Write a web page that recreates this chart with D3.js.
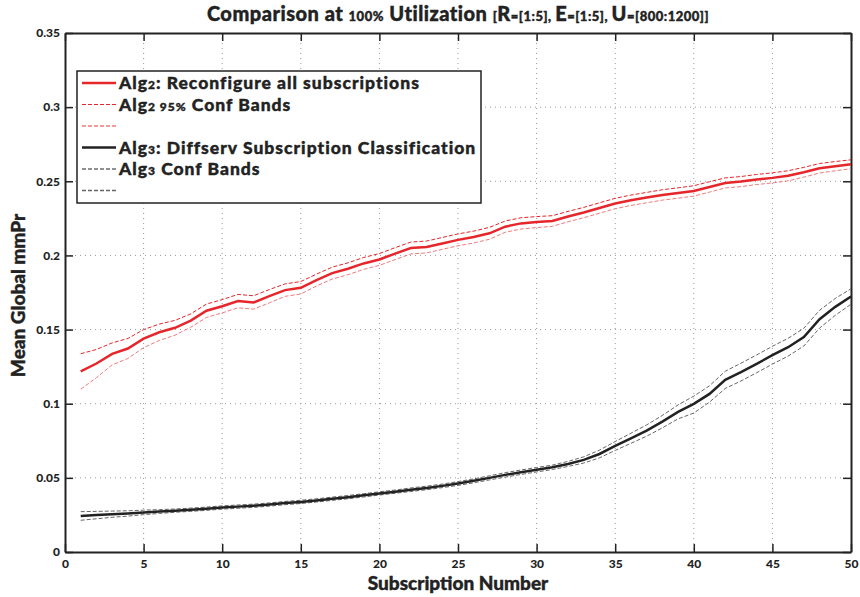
<!DOCTYPE html>
<html>
<head>
<meta charset="utf-8">
<script src="https://cdn.jsdelivr.net/npm/d3@7"></script>
<style>
  body { margin: 0; background: #fff; }
  svg text { font-family: Lato, "DejaVu Sans", sans-serif; font-weight: 900; fill: #222; }
  svg text.heavy { stroke: #222; stroke-width: 0.4px; }
</style>
</head>
<body>
<div id="chart"></div>
<script>
// Data (x = subscription number 1..50)
const subscriptions = d3.range(1, 51);

const alg2Mean = [0.1218, 0.1271, 0.1336, 0.1372, 0.1439, 0.1482, 0.1512, 0.1561, 0.1627, 0.1657,
  0.1692, 0.1683, 0.1725, 0.1766, 0.1782, 0.1834, 0.1881, 0.1910, 0.1946, 0.1973,
  0.2012, 0.2050, 0.2057, 0.2081, 0.2105, 0.2124, 0.2149, 0.2194, 0.2216, 0.2225,
  0.2232, 0.2262, 0.2289, 0.2320, 0.2350, 0.2372, 0.2390, 0.2408, 0.2421, 0.2435,
  0.2462, 0.2489, 0.2498, 0.2512, 0.2523, 0.2537, 0.2561, 0.2588, 0.2602, 0.2615];
const alg2Upper = [0.1337, 0.1366, 0.1410, 0.1440, 0.1500, 0.1537, 0.1562, 0.1606, 0.1672, 0.1702,
  0.1737, 0.1728, 0.1770, 0.1808, 0.1824, 0.1874, 0.1921, 0.1950, 0.1986, 0.2013,
  0.2052, 0.2090, 0.2097, 0.2121, 0.2145, 0.2164, 0.2189, 0.2232, 0.2254, 0.2262,
  0.2268, 0.2297, 0.2324, 0.2355, 0.2385, 0.2407, 0.2425, 0.2443, 0.2456, 0.2470,
  0.2497, 0.2523, 0.2532, 0.2546, 0.2557, 0.2571, 0.2594, 0.2620, 0.2633, 0.2645];
const alg2Lower = [0.1098, 0.1176, 0.1262, 0.1305, 0.1378, 0.1427, 0.1462, 0.1516, 0.1582, 0.1612,
  0.1647, 0.1638, 0.1680, 0.1724, 0.1740, 0.1794, 0.1841, 0.1870, 0.1906, 0.1933,
  0.1972, 0.2010, 0.2017, 0.2041, 0.2065, 0.2084, 0.2109, 0.2156, 0.2178, 0.2188,
  0.2196, 0.2227, 0.2254, 0.2285, 0.2315, 0.2337, 0.2355, 0.2373, 0.2386, 0.2400,
  0.2427, 0.2455, 0.2464, 0.2478, 0.2489, 0.2503, 0.2528, 0.2556, 0.2571, 0.2585];

const alg3Mean = [0.0243, 0.0249, 0.0255, 0.0260, 0.0267, 0.0273, 0.0279, 0.0285, 0.0292, 0.0300,
  0.0306, 0.0312, 0.0320, 0.0330, 0.0338, 0.0348, 0.0359, 0.0370, 0.0382, 0.0395,
  0.0407, 0.0420, 0.0432, 0.0446, 0.0462, 0.0480, 0.0500, 0.0520, 0.0538, 0.0555,
  0.0571, 0.0594, 0.0621, 0.0661, 0.0715, 0.0767, 0.0819, 0.0879, 0.0945, 0.0999,
  0.1066, 0.1161, 0.1213, 0.1269, 0.1327, 0.1381, 0.1449, 0.1570, 0.1653, 0.1723];
const alg3Upper = [0.0272, 0.0274, 0.0276, 0.0278, 0.0282, 0.0286, 0.0290, 0.0296, 0.0303, 0.0311,
  0.0317, 0.0323, 0.0331, 0.0341, 0.0349, 0.0359, 0.0370, 0.0381, 0.0393, 0.0406,
  0.0418, 0.0432, 0.0444, 0.0458, 0.0475, 0.0493, 0.0514, 0.0535, 0.0553, 0.0570,
  0.0586, 0.0611, 0.0642, 0.0687, 0.0745, 0.0801, 0.0857, 0.0921, 0.0992, 0.1051,
  0.1121, 0.1219, 0.1273, 0.1329, 0.1387, 0.1441, 0.1509, 0.1630, 0.1710, 0.1775];
const alg3Lower = [0.0214, 0.0224, 0.0234, 0.0242, 0.0252, 0.0260, 0.0268, 0.0274, 0.0281, 0.0289,
  0.0295, 0.0301, 0.0309, 0.0319, 0.0327, 0.0337, 0.0348, 0.0359, 0.0371, 0.0384,
  0.0396, 0.0408, 0.0420, 0.0434, 0.0449, 0.0467, 0.0486, 0.0505, 0.0523, 0.0540,
  0.0556, 0.0577, 0.0600, 0.0635, 0.0685, 0.0733, 0.0781, 0.0837, 0.0898, 0.0937,
  0.1011, 0.1103, 0.1153, 0.1209, 0.1267, 0.1321, 0.1389, 0.1510, 0.1596, 0.1671];

const xTicks = [0, 5, 10, 15, 20, 25, 30, 35, 40, 45, 50];
const yTicks = [0, 0.05, 0.1, 0.15, 0.2, 0.25, 0.3, 0.35];

const width = 860, height = 597;
const margin = {top: 33, right: 9, bottom: 45, left: 65};
const innerW = width - margin.left - margin.right,
  innerH = height - margin.top - margin.bottom;

const red = "#e5262b", redLight = "#f07a7d", black = "#222", grey = "#666";

const svg = d3.select("#chart").append("svg")
  .attr("width", width).attr("height", height);

const g = svg.append("g")
  .attr("transform", "translate(" + margin.left + "," + margin.top + ")");

const x = d3.scaleLinear().domain([0, 50]).range([0, innerW]);
const y = d3.scaleLinear().domain([0, 0.35]).range([innerH, 0]);

// dotted grid
g.append("g").selectAll("line").data(xTicks.slice(1, -1)).enter().append("line")
  .attr("x1", d => x(d)).attr("x2", d => x(d)).attr("y1", 0).attr("y2", innerH)
  .attr("stroke", "#999").attr("stroke-width", 1).attr("stroke-dasharray", "1,4");
g.append("g").selectAll("line").data(yTicks.slice(1, -1)).enter().append("line")
  .attr("y1", d => y(d)).attr("y2", d => y(d)).attr("x1", 0).attr("x2", innerW)
  .attr("stroke", "#999").attr("stroke-width", 1).attr("stroke-dasharray", "1,4");

// axes (ticks pointing inward, matlab style)
const xAxis = g.append("g").attr("transform", "translate(0," + innerH + ")")
  .call(d3.axisBottom(x).tickValues(xTicks).tickFormat(d3.format("d")).tickSizeInner(-8).tickSizeOuter(0).tickPadding(7));
const xAxisTop = g.append("g")
  .call(d3.axisTop(x).tickValues(xTicks).tickFormat("").tickSizeInner(-8).tickSizeOuter(0));
const yAxis = g.append("g")
  .call(d3.axisLeft(y).tickValues(yTicks).tickFormat(d => d === 0 ? "0" : String(d)).tickSizeInner(-8).tickSizeOuter(0).tickPadding(5));
const yAxisRight = g.append("g").attr("transform", "translate(" + innerW + ",0)")
  .call(d3.axisRight(y).tickValues(yTicks).tickFormat("").tickSizeInner(-8).tickSizeOuter(0));

[xAxis, xAxisTop, yAxis, yAxisRight].forEach(a => {
  a.select(".domain").attr("stroke", "#222").attr("stroke-width", 2);
  a.selectAll(".tick line").attr("stroke", "#222").attr("stroke-width", 1.5);
  a.selectAll(".tick text").style("font-size", "12px").attr("fill", "#222");
});

// lines
const line = d3.line().x((d, i) => x(subscriptions[i])).y(d => y(d));

function drawLine(data, color, w, dash) {
  g.append("path").datum(data)
    .attr("fill", "none").attr("stroke", color).attr("stroke-width", w)
    .attr("stroke-dasharray", dash).attr("d", line);
}
drawLine(alg2Upper, red, 1, "4,2");
drawLine(alg2Lower, redLight, 1, "4,2");
drawLine(alg2Mean, red, 2.5, null);
drawLine(alg3Upper, grey, 1, "4,2");
drawLine(alg3Lower, grey, 1, "4,2");
drawLine(alg3Mean, black, 2.5, null);

// legend
const legendItems = [
  {color: red, w: 2.5, dash: null, parts: [["Alg", 17.5], ["2", 12], [": Reconfigure all subscriptions", 17.5]]},
  {color: red, w: 1, dash: "4,2", parts: [["Alg", 17.5], ["2 95%", 12], [" Conf Bands", 17.5]]},
  {color: redLight, w: 1.5, dash: "4,2", parts: []},
  {color: black, w: 2.5, dash: null, parts: [["Alg", 17.5], ["3", 12], [": Diffserv Subscription Classification", 17.5]]},
  {color: black, w: 1, dash: "4,2", parts: [["Alg", 17.5], ["3", 12], [" Conf Bands", 17.5]]},
  {color: grey, w: 1.5, dash: "4,2", parts: []}
];

const legend = svg.append("g").attr("transform", "translate(77,71)");
legend.append("rect").attr("width", 404).attr("height", 132)
  .attr("fill", "#fff").attr("stroke", "#222").attr("stroke-width", 1.5);

legendItems.forEach((item, i) => {
  const ly = 12 + i * 21.5;
  legend.append("line").attr("x1", 5).attr("x2", 39).attr("y1", ly).attr("y2", ly)
    .attr("stroke", item.color).attr("stroke-width", item.w).attr("stroke-dasharray", item.dash);
  if (item.parts.length) {
    const t = legend.append("text").attr("class", "heavy").attr("x", 42).attr("y", ly + 6)
      .style("letter-spacing", "1px");
    item.parts.forEach(p => t.append("tspan").style("font-size", p[1] + "px").text(p[0]));
  }
});

// title
const title = svg.append("text").attr("class", "heavy").attr("x", 458).attr("y", 21)
  .attr("text-anchor", "middle").style("letter-spacing", "0.5px");
[["Comparison at ", 20], ["100%", 13], [" Utilization ", 20], ["[", 13], ["R", 20], ["=[1:5], ", 13],
 ["E", 20], ["=[1:5], ", 13], ["U", 20], ["=[800:1200]]", 13]].forEach(p => {
  title.append("tspan").style("font-size", p[1] + "px").text(p[0]);
});

// axis labels
svg.append("text").attr("class", "heavy").attr("x", margin.left + innerW / 2).attr("y", 590)
  .attr("text-anchor", "middle").style("font-size", "19px").text("Subscription Number");
svg.append("text").attr("class", "heavy").attr("transform", "translate(25," + (margin.top + innerH / 2 + 3) + ") rotate(-90)")
  .attr("text-anchor", "middle").style("font-size", "19px").text("Mean Global mmPr");
</script>
</body>
</html>
